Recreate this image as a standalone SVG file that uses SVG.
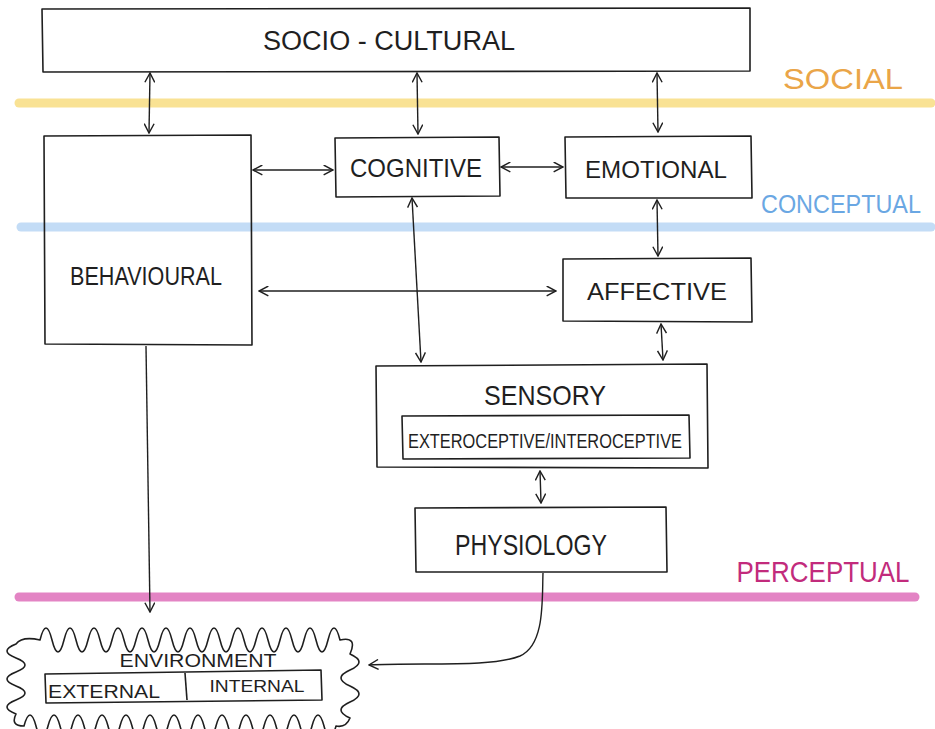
<svg xmlns="http://www.w3.org/2000/svg" width="935" height="729" viewBox="0 0 935 729">
  <style>
    .box { fill: none; stroke: #1f1f1f; stroke-width: 1.6; stroke-linejoin: round; }
    .lbl { font-family: "Liberation Sans", Arial, sans-serif; fill: #1f1f1f; text-anchor: middle; }
    .edge { fill: none; stroke: #1f1f1f; stroke-width: 1.4; }
    .band { fill: none; stroke-width: 9; stroke-linecap: round; }
    .tier { font-family: "Liberation Sans", Arial, sans-serif; text-anchor: middle; }
  </style>
  <defs>
    <marker id="arr" viewBox="0 0 10 10" refX="9.5" refY="5" markerWidth="11" markerHeight="11" markerUnits="userSpaceOnUse" orient="auto-start-reverse">
      <path d="M1,0.5 L9.5,5 L1,9.5" fill="none" stroke="#1f1f1f" stroke-width="1.3"/>
    </marker>
  </defs>
  <rect width="935" height="729" fill="#ffffff"/>

  <!-- tier bands -->
  <g id="bands">
    <line class="band" x1="19" y1="103" x2="931" y2="103" stroke="#f9e294"/>
    <line class="band" x1="21" y1="227" x2="931" y2="227" stroke="#c3dcf6"/>
    <line class="band" x1="19" y1="597" x2="915" y2="597" stroke="#e384c4"/>
    <text class="tier" x="843" y="89" font-size="29" textLength="120" lengthAdjust="spacingAndGlyphs" fill="#eaa548">SOCIAL</text>
    <text class="tier" x="841" y="213" font-size="26" textLength="160" lengthAdjust="spacingAndGlyphs" fill="#6aa7e3">CONCEPTUAL</text>
    <text class="tier" x="823" y="582" font-size="30" textLength="173" lengthAdjust="spacingAndGlyphs" fill="#c22b7c">PERCEPTUAL</text>
  </g>

  <g id="socio-cultural">
    <path class="box" d="M42,9 L750,8 L750,71 L43,72 Z"/>
    <text class="lbl" x="389" y="50" font-size="27" textLength="252" lengthAdjust="spacingAndGlyphs">SOCIO - CULTURAL</text>
  </g>

  <g id="behavioural">
    <path class="box" d="M44,136 L251,135 L252,345 L45,344 Z"/>
    <text class="lbl" x="146" y="285" font-size="25" textLength="152" lengthAdjust="spacingAndGlyphs">BEHAVIOURAL</text>
  </g>

  <g id="cognitive">
    <path class="box" d="M335,138 L499,137 L500,196 L336,197 Z"/>
    <text class="lbl" x="416" y="177" font-size="26" textLength="132" lengthAdjust="spacingAndGlyphs">COGNITIVE</text>
  </g>

  <g id="emotional">
    <path class="box" d="M565,137 L751,136 L752,198 L566,198 Z"/>
    <text class="lbl" x="656" y="178" font-size="24" textLength="142" lengthAdjust="spacingAndGlyphs">EMOTIONAL</text>
  </g>

  <g id="affective">
    <path class="box" d="M563,259 L751,258 L752,322 L563,321 Z"/>
    <text class="lbl" x="657" y="300" font-size="23" textLength="140" lengthAdjust="spacingAndGlyphs">AFFECTIVE</text>
  </g>

  <g id="sensory">
    <path class="box" d="M376,366 L707,364 L708,468 L377,467 Z"/>
    <text class="lbl" x="545" y="405" font-size="28" textLength="122" lengthAdjust="spacingAndGlyphs">SENSORY</text>
    <path class="box" d="M402,416 L689,415 L690,458 L403,459 Z"/>
    <text class="lbl" x="545" y="448" font-size="20" textLength="274" lengthAdjust="spacingAndGlyphs">EXTEROCEPTIVE/INTEROCEPTIVE</text>
  </g>

  <g id="physiology">
    <path class="box" d="M415,508 L666,507 L667,572 L416,572 Z"/>
    <text class="lbl" x="531" y="555" font-size="30" textLength="152" lengthAdjust="spacingAndGlyphs">PHYSIOLOGY</text>
  </g>

  <g id="environment">
    <!-- wavy cloud outline -->
    <path class="box" d="M40,640 q 6 -24 12 0 t 12 0 t 12 0 t 12 0 t 12 0 t 12 0 t 12 0 t 12 0 t 12 0 t 12 0 t 12 0 t 12 0 t 12 0 t 12 0 t 12 0 t 12 0 t 12 0 t 12 0 t 12 0 t 12 0 t 12 0 t 12 0 t 12 0 t 12 0 t 12 0 q 18 -4 10 14 q 18 8 0 16 t 0 16 t 0 16 t 0 16 q -4 10 -14 8 q -6 22 -12 0 t -12 0 t -12 0 t -12 0 t -12 0 t -12 0 t -12 0 t -12 0 t -12 0 t -12 0 t -12 0 t -12 0 t -12 0 t -12 0 t -12 0 t -12 0 t -12 0 t -12 0 t -12 0 t -12 0 t -12 0 t -12 0 t -12 0 t -12 0 t -12 0 t -12 0 q -14 0 -8 -12 q -18 -7 0 -14 t 0 -14 t 0 -14 t 0 -14 t 0 -14 q 6 -8 24 -4 Z"/>
    <text class="lbl" x="198" y="667" font-size="19" textLength="157" lengthAdjust="spacingAndGlyphs">ENVIRONMENT</text>
    <path class="box" d="M45,674 L321,670 L322,700 L46,703 Z"/>
    <line class="box" x1="185" y1="673" x2="187" y2="700"/>
    <text class="lbl" x="104" y="698" font-size="19" textLength="112" lengthAdjust="spacingAndGlyphs">EXTERNAL</text>
    <text class="lbl" x="257" y="692" font-size="17" textLength="95" lengthAdjust="spacingAndGlyphs">INTERNAL</text>
  </g>

  <!-- connectors -->
  <g id="connectors">
    <path class="edge" d="M150,73 L149,133" marker-start="url(#arr)" marker-end="url(#arr)"/>
    <path class="edge" d="M417,73 L418,134" marker-start="url(#arr)" marker-end="url(#arr)"/>
    <path class="edge" d="M657,73 L658,132" marker-start="url(#arr)" marker-end="url(#arr)"/>
    <path class="edge" d="M253,170 L333,170" marker-start="url(#arr)" marker-end="url(#arr)"/>
    <path class="edge" d="M501,167 L563,167" marker-start="url(#arr)" marker-end="url(#arr)"/>
    <path class="edge" d="M412,198 L421,362" marker-start="url(#arr)" marker-end="url(#arr)"/>
    <path class="edge" d="M657,200 L658,256" marker-start="url(#arr)" marker-end="url(#arr)"/>
    <path class="edge" d="M259,291 L556,291" marker-start="url(#arr)" marker-end="url(#arr)"/>
    <path class="edge" d="M661,324 L663,360" marker-start="url(#arr)" marker-end="url(#arr)"/>
    <path class="edge" d="M540,471 L541,503" marker-start="url(#arr)" marker-end="url(#arr)"/>
    <path class="edge" d="M146,346 L150,612" marker-end="url(#arr)"/>
    <path class="edge" d="M543,573 C542,600 545,645 520,656 C490,668 420,662 369,665" marker-end="url(#arr)"/>
  </g>
</svg>
